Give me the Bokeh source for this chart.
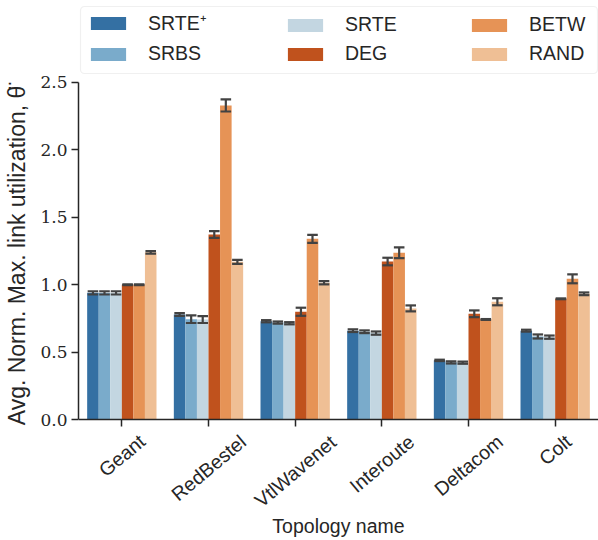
import math
from bokeh.plotting import figure
from bokeh.models import (ColumnDataSource, FactorRange, Range1d, FixedTicker,
                          Legend, LegendItem, LabelSet, CategoricalAxis,
                          PrintfTickFormatter, BoxAnnotation)
from bokeh.core.properties import value
from bokeh.transform import dodge
from bokeh.embed import file_html
from bokeh.resources import INLINE

# ---------------- data ----------------
topologies = ["Geant", "RedBestel", "VtlWavenet", "Interoute", "Deltacom", "Colt"]
series_names = ["SRTE\u207a", "SRBS", "SRTE", "DEG", "BETW", "RAND"]

srte_plus = [0.94, 0.78, 0.73, 0.66, 0.44, 0.66]
srbs = [0.94, 0.745, 0.72, 0.652, 0.425, 0.617]
srte = [0.94, 0.742, 0.715, 0.642, 0.423, 0.612]
deg = [1.00, 1.372, 0.80, 1.172, 0.785, 0.896]
betw = [1.00, 2.328, 1.34, 1.237, 0.743, 1.044]
rand = [1.24, 1.17, 1.015, 0.825, 0.874, 0.933]

srte_plus_err = [0.012, 0.010, 0.008, 0.010, 0.005, 0.007]
srbs_err = [0.012, 0.028, 0.008, 0.010, 0.008, 0.015]
srte_err = [0.012, 0.025, 0.008, 0.012, 0.008, 0.012]
deg_err = [0.003, 0.025, 0.030, 0.028, 0.025, 0.003]
betw_err = [0.003, 0.045, 0.030, 0.040, 0.003, 0.033]
rand_err = [0.010, 0.015, 0.012, 0.022, 0.026, 0.010]

y_ticks = [0.0, 0.5, 1.0, 1.5, 2.0, 2.5]
y_axis_bounds = (0.0, 2.5)

colors = ["#3470a3", "#7aabcb", "#c3d6e1", "#c0521d", "#e69356", "#efbf95"]
err_color = "#424242"
text_color = "#262626"
SANS = "Liberation Sans"
SERIF = "DejaVu Serif"

keys = ["srte_plus", "srbs", "srte", "deg", "betw", "rand"]
means = [srte_plus, srbs, srte, deg, betw, rand]
errs = [srte_plus_err, srbs_err, srte_err, deg_err, betw_err, rand_err]

data = dict(topo=topologies)
for k, m, e in zip(keys, means, errs):
    data[k] = m
    data[k + "_lo"] = [a - b for a, b in zip(m, e)]
    data[k + "_hi"] = [a + b for a, b in zip(m, e)]
src = ColumnDataSource(data)

# ---------------- layout (pixels) ----------------
W, H = 598, 540
FRAME_L, FRAME_T, FRAME_B = 78, 0, 510      # frame edges in canvas px
PX_Y0, PX_Y25 = 419.3, 81.7                 # where 0 and 2.5 should sit
ppu = (PX_Y0 - PX_Y25) / 2.5
y_start = -(FRAME_B - PX_Y0) / ppu
y_end = 2.5 + (PX_Y25 - FRAME_T) / ppu
ppx = (W - FRAME_L) / len(topologies)


def px_to_x(px):
    return (px - FRAME_L) / ppx


def px_to_y(py):
    return y_end - (py - FRAME_T) / ppu


p = figure(x_range=FactorRange(*topologies), y_range=Range1d(y_start, y_end),
           width=W, height=H, output_backend="svg", toolbar_location=None,
           x_axis_location=None,
           min_border_left=FRAME_L, min_border_right=0, min_border_top=FRAME_T,
           min_border_bottom=H - FRAME_B)
p.outline_line_color = None
p.xgrid.visible = False
p.ygrid.visible = False
p.background_fill_color = "white"
p.border_fill_color = "white"

n = len(keys)
group_w = 0.8
bw = group_w / n
cap = 0.061

renderers = []
for i, (k, c) in enumerate(zip(keys, colors)):
    off = -group_w / 2 + bw * (i + 0.5)
    r = p.vbar(x=dodge("topo", off, range=p.x_range), top=k, width=bw,
               source=src, fill_color=c, line_color=None)
    renderers.append(r)
    p.segment(x0=dodge("topo", off, range=p.x_range), y0=k + "_lo",
              x1=dodge("topo", off, range=p.x_range), y1=k + "_hi",
              source=src, line_color=err_color, line_width=2.2)
    for end in ("_lo", "_hi"):
        p.segment(x0=dodge("topo", off - cap, range=p.x_range), y0=k + end,
                  x1=dodge("topo", off + cap, range=p.x_range), y1=k + end,
                  source=src, line_color=err_color, line_width=2.2)

# ---------------- axes ----------------
xax = CategoricalAxis(fixed_location=0)
xax.axis_line_color = text_color
xax.axis_line_width = 1.5
xax.major_tick_line_color = text_color
xax.major_tick_line_width = 1.5
xax.major_tick_out = 7
xax.major_tick_in = 0
xax.major_label_text_color = None
p.add_layout(xax, "below")

title_ax = CategoricalAxis(axis_label="Topology name")
title_ax.axis_line_color = None
title_ax.major_tick_line_color = None
title_ax.major_tick_out = 0
title_ax.major_tick_in = 0
title_ax.major_label_text_color = None
title_ax.major_label_text_font_size = "1px"
title_ax.major_label_standoff = 0
title_ax.axis_label_standoff = 4
title_ax.axis_label_text_font = SANS
title_ax.axis_label_text_font_style = "normal"
title_ax.axis_label_text_font_size = "19.5px"
title_ax.axis_label_text_color = text_color
p.add_layout(title_ax, "below")

yax = p.yaxis[0]
yax.bounds = y_axis_bounds
yax.ticker = FixedTicker(ticks=y_ticks)
yax.formatter = PrintfTickFormatter(format="%.1f")
yax.axis_line_color = text_color
yax.axis_line_width = 1.5
yax.major_tick_line_color = text_color
yax.major_tick_line_width = 1.5
yax.major_tick_out = 7
yax.major_tick_in = 0
yax.minor_tick_out = 0
yax.minor_tick_in = 0
yax.major_label_text_font = SERIF
yax.major_label_text_font_size = "17px"
yax.major_label_text_color = text_color
yax.major_label_standoff = 4
yax.axis_label = "Avg. Norm. Max. link utilization, \u03b8\u0308"
yax.axis_label_text_font = SANS
yax.axis_label_text_font_style = "normal"
yax.axis_label_text_font_size = "23px"
yax.axis_label_text_color = text_color
yax.axis_label_standoff = 7

# rotated, centred tick labels
FS = 19.5
ANG = math.radians(40)


def est_width(s, size):
    narrow = {"i": .222, "l": .222, "j": .222, "t": .278, "f": .278, "r": .333, "I": .278}
    w = 0.0
    for ch in s:
        if ch in narrow:
            w += narrow[ch]
        elif ch in "mM":
            w += .833
        elif ch == "W":
            w += .944
        elif ch.isupper():
            w += .70
        elif ch in "kvyzxsc":
            w += .5
        else:
            w += .556
    return w * size


label_off = [-(15.2 + (est_width(t, FS) * math.sin(ANG) + 10 * math.cos(ANG)) / 2)
             for t in topologies]
lab_src = ColumnDataSource(dict(topo=topologies, y=[0.0] * len(topologies),
                                off=label_off))
p.add_layout(LabelSet(x="topo", y="y", y_offset="off", text="topo",
                      source=lab_src, angle=ANG, text_align="center",
                      text_baseline="middle", text_font=value(SANS),
                      text_font_size=value("19.5px"), text_color=text_color))

# ---------------- legend ----------------
box = BoxAnnotation(left=px_to_x(80), right=px_to_x(597),
                    top=px_to_y(6), bottom=px_to_y(73),
                    fill_color="white", fill_alpha=1.0,
                    line_color="#cccccc", line_width=1.2)
if "border_radius" in BoxAnnotation.properties():
    box.border_radius = 4
p.add_layout(box)

col_x = [8, 205, 389]
col_bottom = FRAME_B - 65
for ci in range(3):
    items = [LegendItem(label=series_names[j], renderers=[renderers[j]])
             for j in (2 * ci, 2 * ci + 1)]
    lg = Legend(items=items, location=(col_x[ci], col_bottom),
                orientation="vertical",
                padding=0, margin=0, spacing=6, glyph_width=44,
                glyph_height=16, label_height=20, label_standoff=18,
                label_text_font=SANS, label_text_font_size="19.5px",
                label_text_color=text_color, border_line_color=None,
                background_fill_alpha=0)
    p.add_layout(lg)

open("out.html", "w").write(file_html(p, INLINE))
